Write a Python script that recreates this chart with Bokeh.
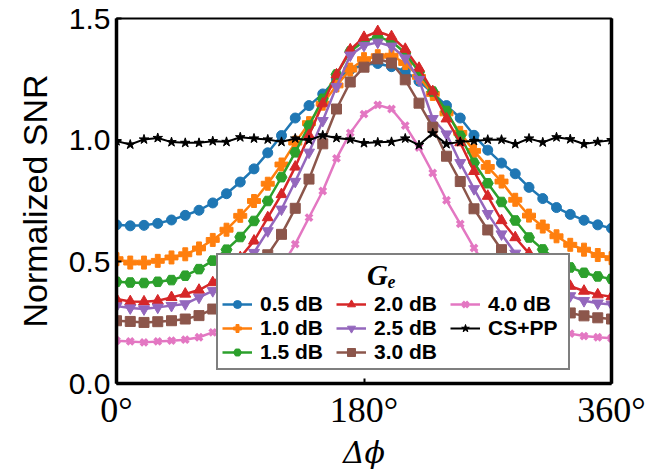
from bokeh.plotting import figure
from bokeh.models import Range1d, FixedTicker, Legend, LegendItem, LinearAxis, NumeralTickFormatter
from bokeh.embed import file_html
from bokeh.resources import INLINE

phase_deg = list(range(0, 361, 10))

snr_05 = [0.652, 0.648, 0.650, 0.658, 0.672, 0.691, 0.712, 0.742, 0.780, 0.828, 0.882, 0.948, 1.019,
          1.091, 1.142, 1.190, 1.251, 1.290, 1.310, 1.315, 1.302, 1.283, 1.242, 1.194, 1.142, 1.091,
          1.020, 0.959, 0.906, 0.862, 0.806, 0.760, 0.723, 0.695, 0.671, 0.652, 0.638]
snr_10 = [0.511, 0.497, 0.497, 0.504, 0.518, 0.531, 0.555, 0.590, 0.632, 0.689, 0.750, 0.821, 0.900,
          0.990, 1.070, 1.150, 1.225, 1.290, 1.333, 1.345, 1.347, 1.317, 1.260, 1.190, 1.110, 1.030,
          0.956, 0.890, 0.830, 0.755, 0.690, 0.645, 0.605, 0.570, 0.550, 0.528, 0.515]
snr_15 = [0.418, 0.415, 0.413, 0.418, 0.425, 0.443, 0.470, 0.505, 0.550, 0.602, 0.668, 0.750, 0.848,
          0.950, 1.060, 1.170, 1.270, 1.365, 1.406, 1.424, 1.406, 1.358, 1.280, 1.200, 1.120, 1.018,
          0.907, 0.823, 0.746, 0.670, 0.600, 0.551, 0.509, 0.477, 0.455, 0.440, 0.430]
snr_20 = [0.347, 0.337, 0.336, 0.340, 0.354, 0.368, 0.384, 0.415, 0.460, 0.518, 0.586, 0.682, 0.777,
          0.890, 1.020, 1.150, 1.269, 1.372, 1.423, 1.447, 1.426, 1.374, 1.296, 1.200, 1.088, 0.990,
          0.872, 0.770, 0.670, 0.600, 0.535, 0.480, 0.435, 0.400, 0.380, 0.365, 0.357]
snr_25 = [0.318, 0.310, 0.306, 0.313, 0.320, 0.327, 0.354, 0.381, 0.420, 0.470, 0.538, 0.627, 0.716,
          0.830, 0.950, 1.080, 1.220, 1.349, 1.389, 1.402, 1.386, 1.337, 1.249, 1.088, 1.025, 0.907,
          0.800, 0.698, 0.614, 0.535, 0.470, 0.420, 0.385, 0.360, 0.340, 0.330, 0.325]
snr_30 = [0.258, 0.255, 0.251, 0.254, 0.258, 0.265, 0.279, 0.306, 0.345, 0.400, 0.460, 0.529, 0.613,
          0.720, 0.840, 0.985, 1.128, 1.239, 1.300, 1.334, 1.317, 1.248, 1.152, 1.053, 0.934, 0.830,
          0.718, 0.631, 0.550, 0.465, 0.400, 0.350, 0.315, 0.290, 0.278, 0.270, 0.265]
snr_40 = [0.176, 0.173, 0.169, 0.173, 0.176, 0.180, 0.190, 0.210, 0.240, 0.280, 0.330, 0.400, 0.480,
          0.573, 0.682, 0.791, 0.925, 1.030, 1.107, 1.145, 1.128, 1.060, 0.970, 0.865, 0.753, 0.656,
          0.557, 0.470, 0.390, 0.330, 0.280, 0.245, 0.220, 0.205, 0.195, 0.190, 0.186]
snr_cspp = [0.996, 0.982, 1.003, 1.009, 0.992, 0.989, 0.989, 0.996, 0.993, 1.012, 1.007, 1.003, 0.993,
            1.007, 1.000, 1.020, 1.009, 1.003, 0.988, 0.991, 0.993, 1.007, 0.980, 1.028, 0.984, 0.993,
            0.997, 1.002, 1.002, 0.984, 1.007, 0.991, 1.012, 1.004, 0.984, 0.993, 1.000]

series_labels = ["0.5 dB", "1.0 dB", "1.5 dB", "2.0 dB", "2.5 dB", "3.0 dB", "4.0 dB", "CS+PP"]
x_tick_labels = {0: "0°", 180: "180°", 360: "360°"}
legend_title = "Gₑ"

series = [snr_05, snr_10, snr_15, snr_20, snr_25, snr_30, snr_40, snr_cspp]
colors = ["#1f77b4", "#ff7f0e", "#2ca02c", "#d62728", "#9467bd", "#8c564b", "#e377c2", "#000000"]
markers = ["circle", "plus", "hex", "triangle", "inverted_triangle", "square", "x", "star"]
sizes = [10, 13, 11, 11, 11, 10, 9, 10]

p = figure(width=649, height=472, output_backend="svg", toolbar_location=None,
           x_range=Range1d(0, 360), y_range=Range1d(0, 1.5),
           min_border_left=116, min_border_right=38, min_border_top=18, min_border_bottom=89)
p.grid.visible = False
p.outline_line_color = "black"
p.outline_line_width = 2
p.background_fill_color = "white"
p.border_fill_color = "white"

xa = p.xaxis[0]
xa.ticker = FixedTicker(ticks=[0, 180, 360])
xa.major_label_overrides = x_tick_labels
xa.minor_tick_line_color = None
xa.major_tick_in = 5
xa.major_tick_out = 0
xa.major_tick_line_width = 2
xa.axis_line_width = 3.5
xa.major_label_text_font = "Liberation Serif"
xa.major_label_text_font_size = "36px"
xa.major_label_text_color = "black"
xa.major_label_standoff = 6
xa.axis_label = "Δϕ"
xa.axis_label_text_font = "DejaVu Serif"
xa.axis_label_text_font_style = "italic"
xa.axis_label_text_font_size = "30px"
xa.axis_label_text_color = "black"
xa.axis_label_standoff = 2

ya = p.yaxis[0]
ya.ticker = FixedTicker(ticks=[0, 0.5, 1.0, 1.5])
ya.formatter = NumeralTickFormatter(format="0.0")
ya.minor_tick_line_color = None
ya.major_tick_in = 5
ya.major_tick_out = 0
ya.major_tick_line_width = 2
ya.axis_line_width = 3.5
ya.major_label_text_font = "Liberation Sans"
ya.major_label_text_font_size = "30px"
ya.major_label_text_color = "black"
ya.major_label_standoff = 6
ya.axis_label = "Normalized SNR"
ya.axis_label_text_font = "Liberation Sans"
ya.axis_label_text_font_style = "normal"
ya.axis_label_text_font_size = "34px"
ya.axis_label_text_color = "black"
ya.axis_label_standoff = 12

ra = LinearAxis(ticker=FixedTicker(ticks=[]), axis_line_width=3.5,
                major_tick_line_color=None, minor_tick_line_color=None,
                major_label_text_font_size="0px")
p.add_layout(ra, "right")

items = []
for vals, lab, c, m, s in zip(series, series_labels, colors, markers, sizes):
    lw = 2 if c == "#000000" else 2.5
    r1 = p.line(phase_deg, vals, line_color=c, line_width=lw)
    if m == "x":
        r2 = p.scatter(phase_deg, vals, marker=m, size=s, line_color=c, line_width=3.5)
    else:
        r2 = p.scatter(phase_deg, vals, marker=m, size=s, fill_color=c, line_color=c, line_width=1)
    items.append(LegendItem(label=lab, renderers=[r1, r2]))

legend = Legend(items=items, location=(100, 13), orientation="vertical", nrows=3,
                title="\u00a0" * 20 + legend_title, title_text_font="Liberation Serif",
                title_text_font_style="bold italic", title_text_font_size="29px",
                title_text_color="black", title_standoff=0,
                label_text_font="Liberation Sans", label_text_font_style="bold",
                label_text_font_size="21px", label_text_color="black",
                label_height=20, label_width=76, glyph_height=20, glyph_width=30,
                label_standoff=8, spacing=0, padding=4, margin=0,
                border_line_color="black", border_line_width=2.5,
                background_fill_color="white", background_fill_alpha=1.0)
p.add_layout(legend)

open("out.html", "w").write(file_html(p, INLINE))
